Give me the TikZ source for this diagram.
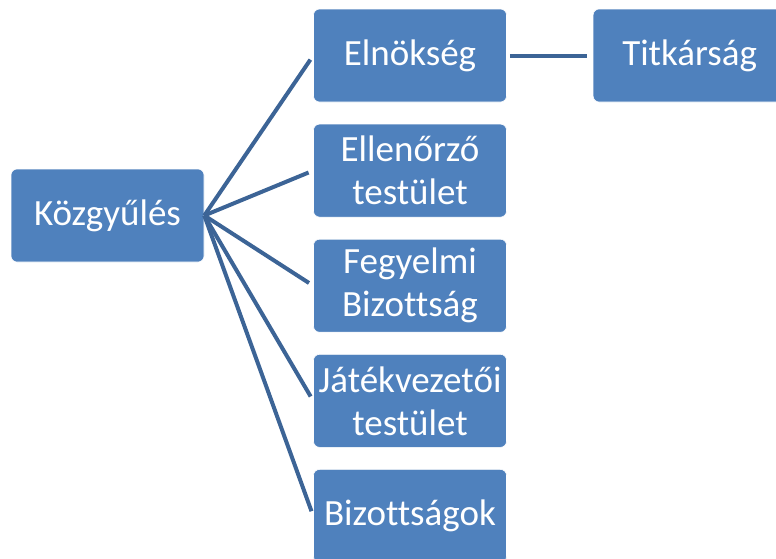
\documentclass[tikz,border=0pt]{standalone}
\usepackage{fontspec}
\setmainfont[Ligatures=NoCommon]{Carlito}
\usetikzlibrary{positioning}
\definecolor{orgblue}{RGB}{79,129,189}
\definecolor{linkblue}{RGB}{60,100,150}

\begin{document}
\begin{tikzpicture}[x=1pt, y=-1pt,
    box/.style={rectangle, draw=white, line width=0.6pt, fill=orgblue, rounded corners=6pt, minimum width=193pt, minimum height=93pt, inner sep=0pt, align=center, text=white, font=\fontsize{37}{43}\selectfont},
    link/.style={draw=linkblue, line width=4pt}
]
    \useasboundingbox (0,0) rectangle (776,558);
    \node[box] (kozgyules) at (107.5,215.5) {Közgyűlés};
    \node[box] (elnokseg) at (410,55.5) {Elnökség};
    \node[box, below=21.5pt of elnokseg] (ellenorzo) {Ellenőrző\\testület};
    \node[box, below=21.5pt of ellenorzo] (fegyelmi) {Fegyelmi\\Bizottság};
    \node[box, below=21.5pt of fegyelmi] (jatekvezetoi) {Játékvezetői\\testület};
    \node[box, below=21.5pt of jatekvezetoi] (bizottsagok) {Bizottságok};
    \node[box, right=86pt of elnokseg] (titkarsag) {Titkárság};

    \foreach \n in {elnokseg,ellenorzo,fegyelmi,jatekvezetoi,bizottsagok}
        \draw[link, shorten >=5pt] (kozgyules.east) -- (\n.west);
    \draw[link, shorten <=3pt, shorten >=6pt] (elnokseg) -- (titkarsag);
\end{tikzpicture}
\end{document}
